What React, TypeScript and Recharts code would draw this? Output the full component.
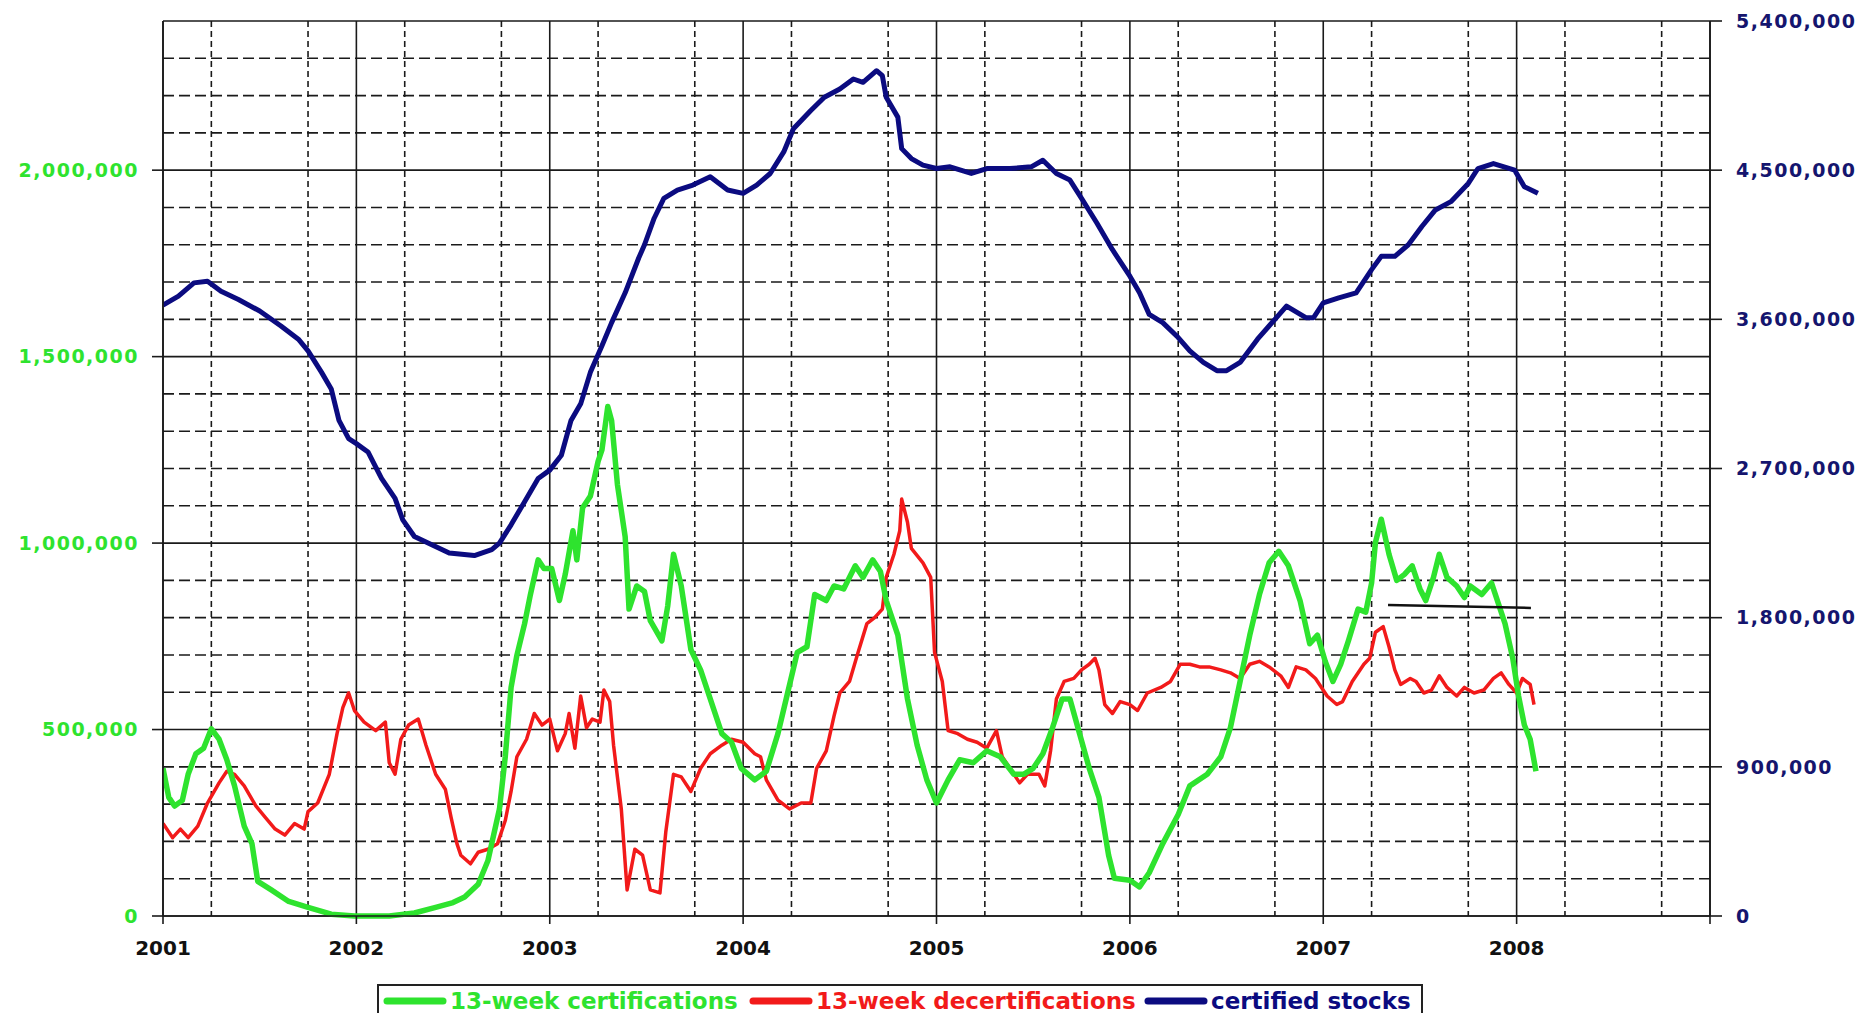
import { CartesianGrid, Line, LineChart, XAxis, YAxis } from 'recharts'

// [year, thousands] — 13-week certifications, left axis
const certifications: [number, number][] = [
  [2001.0, 396], [2001.03, 318], [2001.06, 295], [2001.1, 310], [2001.13, 380], [2001.17, 435], [2001.21, 450],
  [2001.25, 502], [2001.29, 474], [2001.33, 419], [2001.37, 349], [2001.42, 241], [2001.46, 194], [2001.49, 93],
  [2001.56, 70], [2001.65, 39], [2001.75, 23], [2001.87, 5], [2001.99, 0], [2002.17, 0], [2002.3, 8],
  [2002.41, 23], [2002.5, 36], [2002.56, 51], [2002.63, 85], [2002.68, 148], [2002.74, 287], [2002.77, 427],
  [2002.8, 613], [2002.83, 699], [2002.87, 784], [2002.9, 862], [2002.94, 955], [2002.97, 932], [2003.01, 932],
  [2003.05, 846], [2003.08, 916], [2003.12, 1033], [2003.14, 955], [2003.17, 1095], [2003.21, 1126], [2003.25, 1219],
  [2003.27, 1250], [2003.3, 1366], [2003.32, 1328], [2003.35, 1157], [2003.39, 1017], [2003.41, 823], [2003.45, 885],
  [2003.49, 870], [2003.52, 792], [2003.58, 738], [2003.61, 831], [2003.64, 970], [2003.68, 885], [2003.73, 714],
  [2003.78, 660], [2003.83, 582], [2003.89, 489], [2003.94, 466], [2003.99, 396], [2004.06, 365], [2004.12, 388],
  [2004.18, 489], [2004.23, 598], [2004.28, 707], [2004.33, 722], [2004.37, 862], [2004.43, 846], [2004.47, 885],
  [2004.52, 877], [2004.58, 939], [2004.62, 908], [2004.67, 955], [2004.71, 924], [2004.74, 846], [2004.8, 753],
  [2004.85, 582], [2004.9, 458], [2004.95, 365], [2005.0, 303], [2005.06, 365], [2005.12, 419], [2005.19, 411],
  [2005.26, 443], [2005.33, 427], [2005.4, 380], [2005.45, 380], [2005.5, 396], [2005.55, 435], [2005.6, 505],
  [2005.65, 582], [2005.69, 582], [2005.74, 489], [2005.79, 396], [2005.84, 318], [2005.89, 163], [2005.92, 101],
  [2006.0, 96], [2006.05, 78], [2006.1, 116], [2006.17, 194], [2006.25, 272], [2006.31, 349], [2006.4, 380],
  [2006.47, 427], [2006.52, 505], [2006.57, 629], [2006.62, 753], [2006.67, 862], [2006.72, 947], [2006.77, 978],
  [2006.82, 939], [2006.88, 846], [2006.93, 730], [2006.97, 753], [2007.01, 683], [2007.05, 629], [2007.09, 675],
  [2007.13, 738], [2007.18, 823], [2007.22, 815], [2007.25, 893], [2007.27, 1002], [2007.3, 1064], [2007.34, 970],
  [2007.38, 900], [2007.42, 916], [2007.46, 939], [2007.5, 877], [2007.53, 846], [2007.57, 908], [2007.6, 970],
  [2007.64, 908], [2007.69, 885], [2007.73, 854], [2007.76, 885], [2007.82, 862], [2007.87, 893], [2007.91, 831],
  [2007.94, 784], [2007.98, 691], [2008.01, 590], [2008.04, 512], [2008.07, 474], [2008.1, 388],
]

// [year, thousands] — 13-week decertifications, left axis
const decertifications: [number, number][] = [
  [2001.0, 248], [2001.05, 210], [2001.09, 233], [2001.13, 210], [2001.18, 241], [2001.23, 303], [2001.29, 357],
  [2001.33, 388], [2001.37, 380], [2001.42, 349], [2001.48, 295], [2001.53, 264], [2001.58, 233], [2001.63, 217],
  [2001.68, 248], [2001.73, 233], [2001.75, 280], [2001.8, 303], [2001.86, 380], [2001.9, 489], [2001.93, 559],
  [2001.96, 598], [2001.99, 551], [2002.04, 520], [2002.1, 497], [2002.15, 520], [2002.17, 411], [2002.2, 380],
  [2002.23, 474], [2002.27, 512], [2002.32, 528], [2002.36, 458], [2002.41, 380], [2002.46, 340], [2002.49, 264],
  [2002.52, 194], [2002.54, 163], [2002.59, 140], [2002.63, 171], [2002.68, 179], [2002.73, 194], [2002.77, 256],
  [2002.8, 334], [2002.83, 427], [2002.88, 474], [2002.92, 543], [2002.96, 512], [2003.0, 528], [2003.04, 443],
  [2003.08, 489], [2003.1, 543], [2003.13, 450], [2003.16, 590], [2003.19, 505], [2003.22, 528], [2003.26, 520],
  [2003.28, 606], [2003.31, 575], [2003.33, 458], [2003.37, 287], [2003.4, 70], [2003.44, 179], [2003.48, 163],
  [2003.52, 70], [2003.57, 62], [2003.6, 225], [2003.64, 380], [2003.68, 373], [2003.73, 334], [2003.78, 396],
  [2003.83, 435], [2003.89, 458], [2003.94, 474], [2004.0, 466], [2004.06, 435], [2004.09, 427], [2004.12, 365],
  [2004.18, 311], [2004.24, 287], [2004.3, 303], [2004.35, 303], [2004.38, 396], [2004.43, 443], [2004.47, 536],
  [2004.5, 598], [2004.55, 629], [2004.59, 699], [2004.64, 784], [2004.68, 800], [2004.72, 823], [2004.74, 908],
  [2004.78, 970], [2004.81, 1033], [2004.82, 1118], [2004.85, 1056], [2004.87, 986], [2004.93, 947], [2004.97, 908],
  [2004.99, 707], [2005.03, 629], [2005.06, 497], [2005.11, 489], [2005.16, 474], [2005.21, 466], [2005.26, 450],
  [2005.31, 497], [2005.34, 427], [2005.38, 396], [2005.43, 357], [2005.47, 380], [2005.53, 380], [2005.56, 349],
  [2005.59, 443], [2005.62, 582], [2005.66, 629], [2005.71, 637], [2005.75, 660], [2005.79, 675], [2005.82, 691],
  [2005.84, 660], [2005.87, 567], [2005.91, 543], [2005.95, 575], [2006.0, 567], [2006.04, 551], [2006.09, 598],
  [2006.16, 613], [2006.21, 629], [2006.26, 675], [2006.31, 675], [2006.36, 668], [2006.41, 668], [2006.47, 660],
  [2006.52, 652], [2006.57, 637], [2006.62, 675], [2006.67, 683], [2006.72, 668], [2006.78, 644], [2006.82, 613],
  [2006.86, 668], [2006.91, 660], [2006.96, 637], [2007.02, 590], [2007.07, 567], [2007.1, 575], [2007.15, 629],
  [2007.21, 675], [2007.24, 691], [2007.27, 761], [2007.31, 776], [2007.34, 722], [2007.37, 660], [2007.4, 621],
  [2007.45, 637], [2007.48, 629], [2007.52, 598], [2007.56, 606], [2007.6, 644], [2007.64, 613], [2007.69, 590],
  [2007.73, 613], [2007.78, 598], [2007.83, 606], [2007.88, 637], [2007.92, 652], [2007.96, 621], [2008.0, 598],
  [2008.03, 637], [2008.07, 621], [2008.09, 567],
]

// [year, thousands] — certified stocks, right axis
const certifiedStocks: [number, number][] = [
  [2001.0, 3686], [2001.08, 3740], [2001.16, 3820], [2001.23, 3830], [2001.3, 3770], [2001.39, 3720], [2001.5, 3650],
  [2001.61, 3560], [2001.7, 3480], [2001.75, 3410], [2001.82, 3280], [2001.87, 3180], [2001.91, 2990], [2001.96, 2880],
  [2002.0, 2850], [2002.06, 2800], [2002.13, 2640], [2002.2, 2520], [2002.24, 2390], [2002.3, 2290], [2002.39, 2240],
  [2002.48, 2190], [2002.61, 2175], [2002.7, 2210], [2002.74, 2250], [2002.8, 2360], [2002.87, 2500], [2002.94, 2640],
  [2003.0, 2690], [2003.06, 2780], [2003.11, 2990], [2003.16, 3090], [2003.21, 3280], [2003.27, 3440], [2003.32, 3580],
  [2003.39, 3760], [2003.46, 3970], [2003.49, 4050], [2003.54, 4210], [2003.59, 4330], [2003.66, 4380], [2003.74, 4410],
  [2003.83, 4460], [2003.92, 4380], [2004.0, 4360], [2004.07, 4410], [2004.14, 4480], [2004.21, 4610], [2004.26, 4750],
  [2004.35, 4860], [2004.42, 4940], [2004.5, 4990], [2004.57, 5050], [2004.62, 5030], [2004.69, 5100], [2004.72, 5070],
  [2004.74, 4940], [2004.8, 4820], [2004.82, 4630], [2004.87, 4570], [2004.93, 4530], [2005.0, 4510], [2005.07, 4520],
  [2005.18, 4480], [2005.26, 4510], [2005.38, 4510], [2005.49, 4520], [2005.55, 4560], [2005.62, 4480], [2005.69, 4440],
  [2005.75, 4330], [2005.83, 4180], [2005.91, 4020], [2006.0, 3860], [2006.05, 3760], [2006.1, 3630], [2006.17, 3580],
  [2006.25, 3490], [2006.31, 3410], [2006.38, 3340], [2006.45, 3290], [2006.5, 3290], [2006.57, 3340], [2006.66, 3480],
  [2006.75, 3600], [2006.81, 3680], [2006.91, 3610], [2006.95, 3610], [2007.0, 3700], [2007.08, 3730], [2007.17, 3760],
  [2007.25, 3900], [2007.3, 3980], [2007.37, 3980], [2007.44, 4050], [2007.51, 4160], [2007.58, 4260], [2007.66, 4310],
  [2007.75, 4420], [2007.8, 4510], [2007.88, 4540], [2007.99, 4500], [2008.04, 4400], [2008.11, 4360],
]

// hand-drawn black line over the 2007 certifications
const trendLine: [number, number][] = [[2007.335, 834], [2008.074, 826]]

const leftTicks = [0, 500000, 1000000, 1500000, 2000000]
const rightTicks = [0, 900000, 1800000, 2700000, 3600000, 4500000, 5400000]
const years = [2001, 2002, 2003, 2004, 2005, 2006, 2007, 2008, 2009]
const quarters = [0.25, 0.5, 0.75]
const minorSteps = [1, 2, 3, 4, 6, 7, 8, 9, 11, 12, 13, 14, 16, 17, 18, 19, 21, 22, 23]

const GREEN = '#2EE32E'
const RED = '#F21A1A'
const NAVY = '#0B0B80'
const FONT = '"DejaVu Sans", Verdana, sans-serif'

const toPoints = (rows: [number, number][]) => rows.map(([t, v]) => ({ t, v: v * 1000 }))

const quarterLines = years.slice(0, -1).flatMap((y) => quarters.map((q) => y + q))
const minorLines = minorSteps.map((s) => s * 100000)
const majorLines = [...leftTicks, 2400000]

const fmt = (value: number) => value.toLocaleString('en-US')

const legendItems = [
  { label: '13-week certifications', color: GREEN, left: 4 },
  { label: '13-week decertifications', color: RED, left: 370 },
  { label: 'certified stocks', color: NAVY, left: 765 },
]

export default function App() {
  return (
    <div style={{ position: 'fixed', left: 0, top: 0, width: 1866, height: 1013, overflow: 'hidden', background: '#fff' }}>
      <LineChart width={1866} height={1013} margin={{ top: 21, right: 0, bottom: 47, left: 0 }}>
        <CartesianGrid yAxisId="left" vertical={false} horizontalValues={minorLines} stroke="#1a1a1a" strokeWidth={1.6} strokeDasharray="11 5" />
        <CartesianGrid yAxisId="left" horizontal={false} verticalValues={quarterLines} stroke="#1a1a1a" strokeWidth={1.6} strokeDasharray="6 4" />
        <CartesianGrid yAxisId="left" horizontalValues={majorLines} verticalValues={years} stroke="#1a1a1a" strokeWidth={1.6} />
        <XAxis
          dataKey="t"
          type="number"
          domain={[2001, 2009]}
          ticks={years}
          allowDataOverflow
          tickFormatter={(v: number) => (v === 2009 ? '' : String(v))}
          tickSize={8}
          tickMargin={17}
          height={50}
          stroke="#1a1a1a"
          strokeWidth={1.6}
          tick={{ fontSize: 20, fontWeight: 700, fill: '#111', fontFamily: FONT }}
        />
        <YAxis
          yAxisId="left"
          domain={[0, 2400000]}
          ticks={leftTicks}
          tickFormatter={fmt}
          width={163}
          tickSize={11}
          tickMargin={13}
          stroke="#1a1a1a"
          strokeWidth={1.6}
          tick={{ fontSize: 19, fontWeight: 700, fill: GREEN, fontFamily: FONT, letterSpacing: 1.5 }}
        />
        <YAxis
          yAxisId="right"
          orientation="right"
          domain={[0, 5400000]}
          ticks={rightTicks}
          tickFormatter={fmt}
          width={156}
          tickSize={12}
          tickMargin={14}
          stroke="#1a1a1a"
          strokeWidth={1.6}
          tick={{ fontSize: 19, fontWeight: 700, fill: '#15156E', fontFamily: FONT, letterSpacing: 1.5 }}
        />
        <Line yAxisId="right" data={toPoints(certifiedStocks)} dataKey="v" name="certified stocks" stroke={NAVY} strokeWidth={5} dot={false} strokeLinejoin="round" isAnimationActive={false} />
        <Line yAxisId="left" data={toPoints(decertifications)} dataKey="v" name="13-week decertifications" stroke={RED} strokeWidth={3.5} dot={false} strokeLinejoin="round" isAnimationActive={false} />
        <Line yAxisId="left" data={toPoints(certifications)} dataKey="v" name="13-week certifications" stroke={GREEN} strokeWidth={5.5} dot={false} strokeLinejoin="round" isAnimationActive={false} />
        <Line yAxisId="left" data={toPoints(trendLine)} dataKey="v" stroke="#111" strokeWidth={2.5} dot={false} isAnimationActive={false} />
      </LineChart>
      <div style={{ position: 'absolute', left: 377, top: 984, width: 1046, height: 40, border: '2px solid #222', boxSizing: 'border-box', fontFamily: FONT, fontWeight: 700, fontSize: 23 }}>
        {legendItems.map((item) => (
          <div key={item.label} style={{ position: 'absolute', left: item.left, top: 1, display: 'flex', alignItems: 'center', height: 28, whiteSpace: 'nowrap' }}>
            <svg width={64} height={12} style={{ marginRight: 3 }}>
              <line x1={4} y1={6} x2={60} y2={6} stroke={item.color} strokeWidth={7} strokeLinecap="round" />
            </svg>
            <span style={{ color: item.color }}>{item.label}</span>
          </div>
        ))}
      </div>
    </div>
  )
}
